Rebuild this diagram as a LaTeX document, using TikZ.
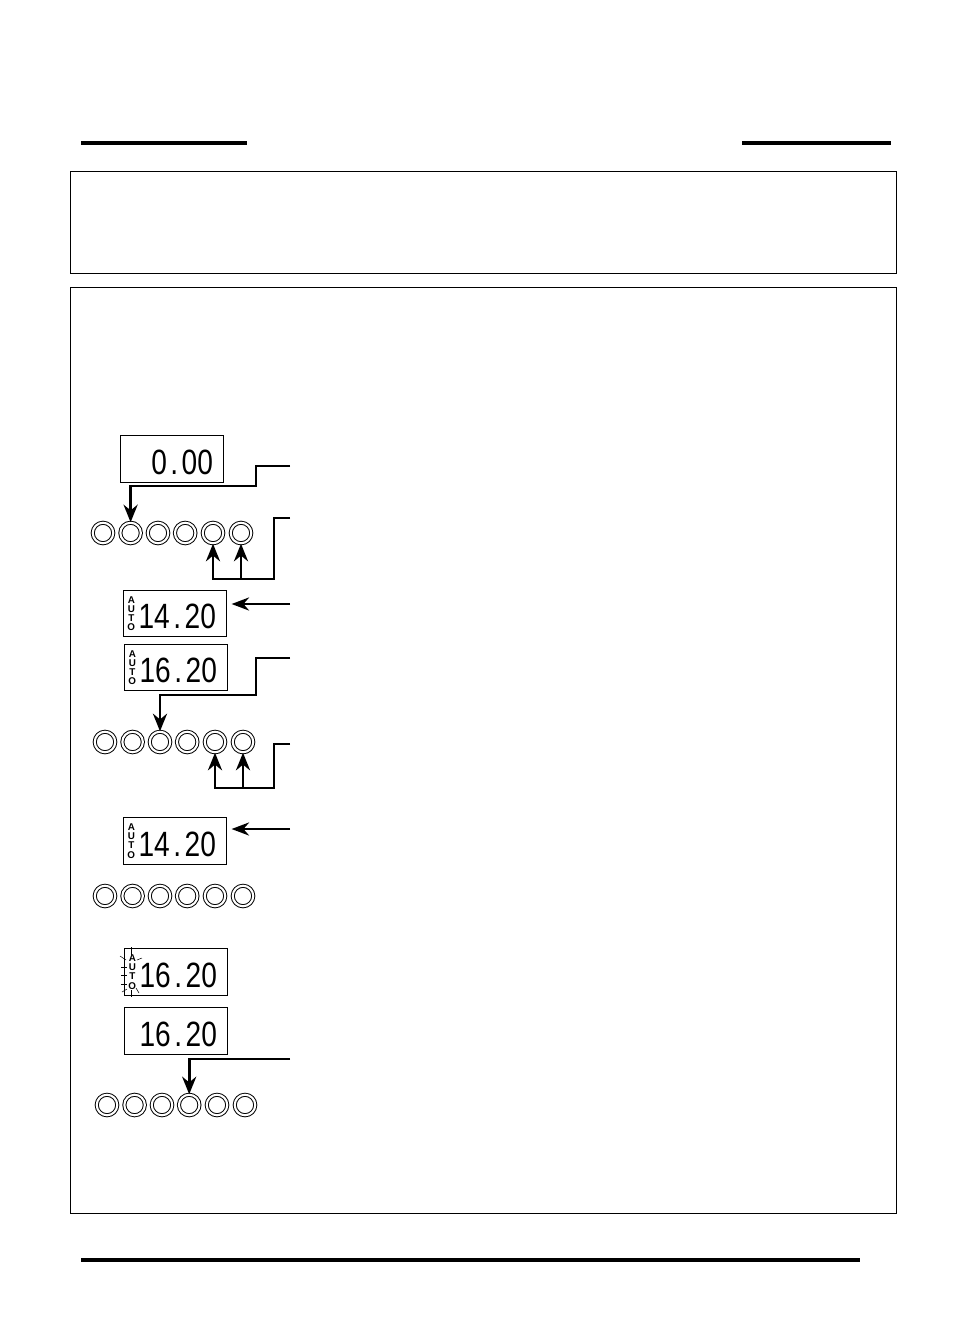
\documentclass[tikz,border=0pt]{standalone}
\usepackage{fontspec}
\setmainfont{Liberation Sans}
\newfontfamily\lcdfont[FakeStretch=0.8]{Liberation Sans}
\usetikzlibrary{arrows.meta}
\tikzset{every node/.style={inner sep=0pt}}
\tikzset{
  wire/.style={line width=1.6pt, black},
  wirehead/.style={wire, -{Stealth[length=10pt,width=8pt]}},
  thinhead/.style={line width=1.2pt, -{Stealth[length=10pt,width=7.5pt]}, shorten >=2.5pt},
  frame/.style={line width=0.6pt, black},
  rulebar/.style={line width=2.2pt, black},
  lamp/.style={circle, draw, line width=0.55pt, double, double distance=1.2pt, minimum size=0.41cm},
  lcdbox/.style={draw, line width=0.8pt, minimum width=2.06cm, minimum height=0.93cm,
    text width=1.64cm, align=right, text height=17.4pt, font=\fontsize{20}{20}\lcdfont},
  autotag/.style={align=center, font=\fontsize{5.6}{5.6}\bfseries\selectfont},
  flash/.style={line width=0.3pt, black}
}
\newcommand{\lcdgap}{\kern2pt.\kern2pt}

\begin{document}
\begin{tikzpicture}[x=0.02cm, y=-0.02cm]

  % Page size.
  \useasboundingbox (0,0) rectangle (954,1335);

  % Rules and frames.
  \draw[rulebar] (81,143) -- (247,143);
  \draw[rulebar] (742,143) -- (891,143);
  \draw[rulebar] (81,1260) -- (860,1260);
  \draw[frame] (70.5,171.5) rectangle (896.5,273.5);
  \draw[frame] (70.5,287.5) rectangle (896.5,1213.5);

  % Displays.
  \node[lcdbox] (dispa) at (172,459) {0\lcdgap 00};
  \node[lcdbox] (dispb) at (175,613.5) {14\lcdgap 20};
  \node[lcdbox] (dispc) at (176,667.5) {16\lcdgap 20};
  \node[lcdbox] (dispd) at (175,841) {14\lcdgap 20};
  \node[lcdbox] (dispe) at (176,972) {16\lcdgap 20};
  \node[lcdbox] (dispf) at (176,1031) {16\lcdgap 20};

  % AUTO tags.
  \foreach \d in {b,c,d,e} {
    \node[autotag] (tag\d) at ([xshift=0.17cm]disp\d.west) {A\\[-0.4pt]U\\[-0.4pt]T\\[-0.4pt]O};
  }

  % Flashing marks round the tag.
  \foreach \xa/\ya/\xb/\yb in {131/947/131/955, 131/990/131/997, 120/956/126/960, 121/967/127/967,
      121/975/127/975, 121/984/127/984, 122/992/127/989, 137/960/142/958, 136/988/139/993} {
    \draw[flash] (\xa,\ya) -- (\xb,\yb);
  }

  % Lamp rows.
  \foreach \r/\x/\y in {a/103/533, b/105/742, c/105/896, d/107/1105} {
    \foreach \i/\dx in {1/0, 2/27.6, 3/55, 4/82.2, 5/110, 6/138} {
      \node[lamp] (\r\i) at (\x+\dx,\y) {};
    }
  }

  % Free ends of the connectors.
  \coordinate (enda) at (290,466);
  \coordinate (benda) at (256,486);
  \coordinate (endb) at (290,518);
  \coordinate (bendb) at (274,579);
  \coordinate (endc) at (290,604);
  \coordinate (endd) at (290,658);
  \coordinate (bendd) at (256,695);
  \coordinate (ende) at (290,744);
  \coordinate (bende) at (274,788);
  \coordinate (endf) at (290,829);
  \coordinate (endg) at (290,1059);

  % Connectors.
  \draw[wirehead] (enda) -| (benda) -| (a2.north);
  \draw[wirehead] (endb) -| (bendb) -| (a5.south);
  \draw[wirehead] (bendb -| a6.south) -- (a6.south);
  \draw[thinhead] (endc) -- (endc -| dispb.east);
  \draw[wirehead] (endd) -| (bendd) -| (b3.north);
  \draw[wirehead] (ende) -| (bende) -| (b5.south);
  \draw[wirehead] (bende -| b6.south) -- (b6.south);
  \draw[thinhead] (endf) -- (endf -| dispd.east);
  \draw[wirehead] (endg) -| (d4.north);

\end{tikzpicture}
\end{document}
